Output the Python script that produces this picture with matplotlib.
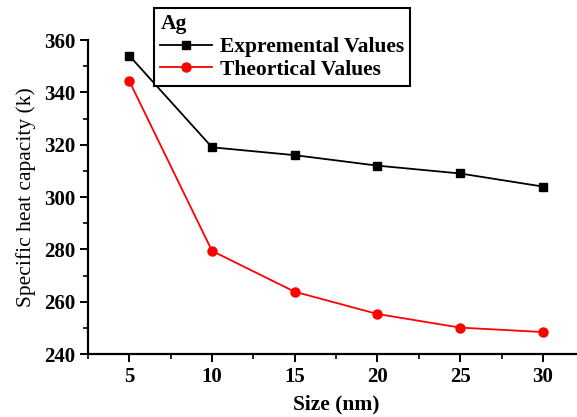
import matplotlib
matplotlib.use("Agg")
import matplotlib.pyplot as plt
from matplotlib.ticker import MultipleLocator

size_nm = [5, 10, 15, 20, 25, 30]
experimental = [354, 319, 316, 312, 309, 304]
theoretical = [344.3, 279.4, 263.8, 255.3, 250.1, 248.4]

plt.rcParams['font.family'] = ['Liberation Serif', 'DejaVu Serif']

fig = plt.figure(figsize=(5.77, 4.17), dpi=100)
ax = fig.add_axes([0.1525, 0.151, 0.86, 0.753])

ax.plot(size_nm, experimental, color='black', marker='s', markersize=6,
        linewidth=1.3, label='Expremental Values')
ax.plot(size_nm, theoretical, color='red', marker='o', markersize=6.5,
        linewidth=1.3, label='Theortical Values')

ax.set_xlim(2.5, 32.5)
ax.set_ylim(240, 360)
ax.xaxis.set_major_locator(MultipleLocator(5))
ax.xaxis.set_minor_locator(MultipleLocator(2.5))
ax.yaxis.set_major_locator(MultipleLocator(20))
ax.yaxis.set_minor_locator(MultipleLocator(10))

for side in ('top', 'right'):
    ax.spines[side].set_visible(False)
for side in ('left', 'bottom'):
    ax.spines[side].set_linewidth(1.6)

ax.tick_params(which='major', direction='out', length=6, width=1.4,
               labelsize=15, pad=3)
ax.tick_params(which='minor', direction='out', length=3.5, width=1.2)
for lab in ax.get_xticklabels() + ax.get_yticklabels():
    lab.set_fontweight('bold')

ax.set_xlabel('Size (nm)', fontsize=15.5, fontweight='bold', labelpad=6)
ax.set_ylabel('Specific heat capacity (k)', fontsize=15.5, labelpad=6)

leg = ax.legend(title='Ag', loc='upper left',
                bbox_to_anchor=(154 / 577, 1 - 8 / 417),
                bbox_transform=fig.transFigure, borderaxespad=0,
                fancybox=False, framealpha=1, edgecolor='black',
                borderpad=0.3, handlelength=2.4, handletextpad=0.35,
                labelspacing=0.12, alignment='left',
                prop={'size': 15.5, 'weight': 'bold'},
                title_fontproperties={'size': 15.5, 'weight': 'bold'})
leg.get_frame().set_linewidth(1.5)

fig.savefig('out.png', dpi=100)
